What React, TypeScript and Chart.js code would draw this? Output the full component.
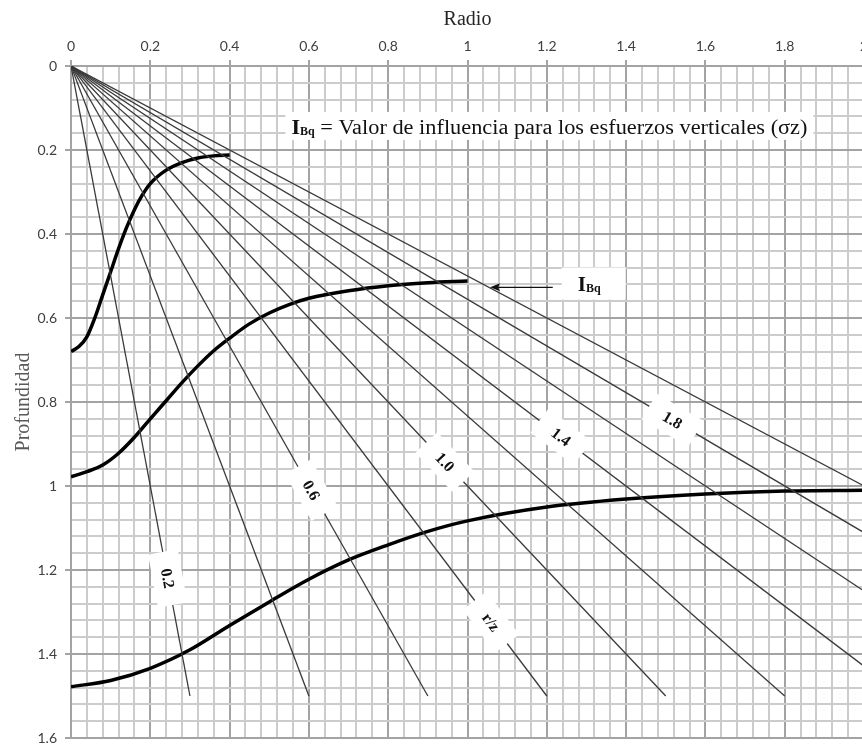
import React, { useEffect, useRef } from "react";
import { Chart, registerables } from "chart.js";

Chart.register(...registerables);

// ---- Data ----
// Radial lines r/z from the origin: end points (x = radio, y = profundidad)
const rayRatios = [0.2, 0.4, 0.6, 0.8, 1.0, 1.2, 1.4, 1.6, 1.8, 2.0];
const rayEndX = [0.3, 0.6, 0.9, 1.2, 1.5, 1.8, 2.0, 2.0, 2.0, 2.0];
const rayEndY = [1.5, 1.5, 1.5, 1.5, 1.5, 1.5, 1.429, 1.25, 1.111, 1.0];

// Labels placed on rays
const rayLabelText = ["0.2", "0.6", "r/z", "1.0", "1.4", "1.8"];
const rayLabelX = [0.244, 0.606, 1.059, 0.943, 1.236, 1.517];
const rayLabelY = [1.22, 1.01, 1.324, 0.943, 0.883, 0.843];

// Influence curves (I_Bq)
const curve1X = [0, 0.02, 0.04, 0.06, 0.08, 0.1, 0.12, 0.14, 0.16, 0.18, 0.2, 0.24, 0.28, 0.32, 0.36, 0.4];
const curve1Y = [0.68, 0.668, 0.645, 0.6, 0.545, 0.49, 0.435, 0.385, 0.342, 0.307, 0.28, 0.248, 0.23, 0.219, 0.214, 0.212];

const curve2X = [0, 0.04, 0.08, 0.12, 0.16, 0.2, 0.24, 0.28, 0.32, 0.36, 0.4, 0.45, 0.5, 0.55, 0.6, 0.7, 0.8, 0.9, 1.0];
const curve2Y = [0.978, 0.966, 0.95, 0.922, 0.884, 0.84, 0.797, 0.754, 0.714, 0.678, 0.648, 0.614, 0.588, 0.568, 0.553, 0.535, 0.523, 0.516, 0.512];

const curve3X = [0, 0.1, 0.2, 0.3, 0.4, 0.5, 0.6, 0.7, 0.8, 0.9, 1.0, 1.2, 1.4, 1.6, 1.8, 2.0];
const curve3Y = [1.478, 1.463, 1.434, 1.39, 1.332, 1.276, 1.222, 1.176, 1.14, 1.108, 1.083, 1.05, 1.031, 1.019, 1.012, 1.01];

// Axes
const xMin = 0, xMax = 2, yMin = 0, yMax = 1.6;
const gridStep = 0.04;
const majorStep = 0.2;

const SERIF = "'Liberation Serif', 'DejaVu Serif', serif";
const SANS = "Lato, 'Open Sans', sans-serif";

const isMajor = (v: number) => Math.abs(v / majorStep - Math.round(v / majorStep)) < 1e-6;
const fmt = (v: number) => (isMajor(v) ? String(+(+v).toFixed(1)) : "");

const zip = (xs: number[], ys: number[]) => xs.map((x, i) => ({ x, y: ys[i] }));

function drawIBq(ctx: any, x: number, y: number, iSize: number, subSize: number) {
  ctx.font = `bold ${iSize}px ${SERIF}`;
  const wI = ctx.measureText("I").width;
  ctx.fillText("I", x, y);
  ctx.font = `bold ${subSize}px ${SERIF}`;
  ctx.fillText("Bq", x + wI, y + 1);
  return wI + ctx.measureText("Bq").width;
}

const annotPlugin = {
  id: "annot",
  afterDatasetsDraw(chart: any) {
    const { ctx, scales } = chart;
    const xs = scales.x, ys = scales.y;
    const ox = xs.getPixelForValue(0), oy = ys.getPixelForValue(0);
    ctx.save();

    // ray labels
    rayLabelText.forEach((t, i) => {
      const px = xs.getPixelForValue(rayLabelX[i]);
      const py = ys.getPixelForValue(rayLabelY[i]);
      const ang = Math.atan2(py - oy, px - ox);
      ctx.save();
      ctx.translate(px, py);
      ctx.rotate(ang);
      ctx.fillStyle = "#ffffff";
      ctx.fillRect(-27, -15, 54, 30);
      ctx.fillStyle = "#111";
      ctx.font = `bold 16px ${SERIF}`;
      ctx.textAlign = "center";
      ctx.textBaseline = "middle";
      ctx.fillText(t, 0, 1);
      ctx.restore();
    });

    // title annotation
    const tx = xs.getPixelForValue(0.556);
    const ty = ys.getPixelForValue(0.145);
    const rest = " = Valor de influencia para los esfuerzos verticales (σz)";
    const targetW = 516;
    ctx.font = `bold 22px ${SERIF}`;
    const wI = ctx.measureText("I").width;
    ctx.font = `bold 12px ${SERIF}`;
    const wB = ctx.measureText("Bq").width;
    ctx.font = `20px ${SERIF}`;
    const wR = ctx.measureText(rest).width;
    const sx = (targetW - wI - wB) / wR;
    ctx.fillStyle = "#fff";
    ctx.fillRect(tx - 6, ty - 15, targetW + 12, 28);
    ctx.fillStyle = "#111";
    ctx.textBaseline = "alphabetic";
    ctx.textAlign = "left";
    const w0 = drawIBq(ctx, tx, ty + 7, 22, 12);
    ctx.save();
    ctx.translate(tx + w0, ty + 7);
    ctx.scale(sx, 1);
    ctx.font = `20px ${SERIF}`;
    ctx.fillText(rest, 0, 0);
    ctx.restore();

    // I_Bq label near arrow
    const lx = xs.getPixelForValue(1.278);
    const ly = ys.getPixelForValue(0.518);
    ctx.fillStyle = "#fff";
    ctx.fillRect(lx - 16, ly - 16, 64, 32);
    ctx.fillStyle = "#111";
    drawIBq(ctx, lx, ly + 7, 21, 12);

    // arrow
    const ax1 = xs.getPixelForValue(1.215), ax2 = xs.getPixelForValue(1.057);
    const ay = ys.getPixelForValue(0.527);
    ctx.strokeStyle = "#111";
    ctx.lineWidth = 1.2;
    ctx.beginPath();
    ctx.moveTo(ax1, ay);
    ctx.lineTo(ax2 + 6, ay);
    ctx.stroke();
    ctx.fillStyle = "#111";
    ctx.beginPath();
    ctx.moveTo(ax2, ay);
    ctx.lineTo(ax2 + 10, ay - 4);
    ctx.lineTo(ax2 + 8, ay);
    ctx.lineTo(ax2 + 10, ay + 4);
    ctx.closePath();
    ctx.fill();

    ctx.restore();
  },
};

export default function App() {
  const ref = useRef<HTMLCanvasElement>(null);
  useEffect(() => {
    const canvas = ref.current!;
    const rayDatasets = rayRatios.map((r, i) => ({
      label: `r/z ${r}`,
      data: [{ x: 0, y: 0 }, { x: rayEndX[i], y: rayEndY[i] }],
      showLine: true,
      borderColor: "#3a3a3a",
      borderWidth: 1.3,
      pointRadius: 0,
      fill: false,
    }));
    const curveStyle = {
      showLine: true,
      borderColor: "#000",
      borderWidth: 3.5,
      pointRadius: 0,
      fill: false,
      cubicInterpolationMode: "monotone" as const,
    };
    const gridColor = (c: any) => (isMajor(c.tick.value) ? "#a3a3a3" : "#cccccc");
    const tickColor = (c: any) => (isMajor(c.tick.value) ? "#a3a3a3" : "rgba(0,0,0,0)");
    const chart = new Chart(canvas, {
      type: "scatter",
      data: {
        datasets: [
          ...rayDatasets,
          { label: "c1", data: zip(curve1X, curve1Y), ...curveStyle },
          { label: "c2", data: zip(curve2X, curve2Y), ...curveStyle },
          { label: "c3", data: zip(curve3X, curve3Y), ...curveStyle },
        ] as any,
      },
      options: {
        animation: false,
        responsive: false,
        devicePixelRatio: 1,
        layout: { padding: { left: 0, top: 0, right: 16, bottom: 6 } },
        plugins: { legend: { display: false }, tooltip: { enabled: false } },
        scales: {
          x: {
            type: "linear",
            position: "top",
            min: xMin,
            max: xMax,
            afterFit: (s: any) => {
              s.height = 66;
              s.paddingLeft = 0;
              s.paddingRight = 0;
            },
            ticks: {
              stepSize: gridStep,
              autoSkip: false,
              maxTicksLimit: 1000,
              maxRotation: 0,
              padding: 5,
              callback: (v: any) => fmt(+v),
              font: { family: SANS, size: 14 },
              color: "#404040",
            },
            grid: { color: gridColor, tickColor, lineWidth: 2, tickLength: 6 },
            border: { color: "#a3a3a3", width: 2 },
            title: {
              display: true,
              text: "Radio",
              font: { family: SERIF, size: 20 },
              color: "#262626",
              padding: { top: 8, bottom: 0 },
            },
          },
          y: {
            type: "linear",
            reverse: true,
            min: yMin,
            max: yMax,
            afterFit: (s: any) => {
              s.width = 71;
              s.paddingTop = 0;
              s.paddingBottom = 0;
            },
            ticks: {
              stepSize: gridStep,
              autoSkip: false,
              maxTicksLimit: 1000,
              padding: 8,
              callback: (v: any) => fmt(+v),
              font: { family: SANS, size: 14 },
              color: "#404040",
            },
            grid: { color: gridColor, tickColor, lineWidth: 2, tickLength: 6 },
            border: { color: "#a3a3a3", width: 2 },
            title: {
              display: true,
              text: "Profundidad",
              font: { family: SERIF, size: 20 },
              color: "#595959",
              padding: { top: 12, bottom: 0 },
            },
          },
        },
      } as any,
      plugins: [annotPlugin],
    });
    return () => chart.destroy();
  }, []);
  return (
    <div
      style={{
        position: "fixed",
        left: 0,
        top: 0,
        width: 862,
        height: 744,
        overflow: "hidden",
        background: "#fff",
      }}
    >
      <canvas ref={ref} width={880} height={744} style={{ display: "block" }} />
    </div>
  );
}
